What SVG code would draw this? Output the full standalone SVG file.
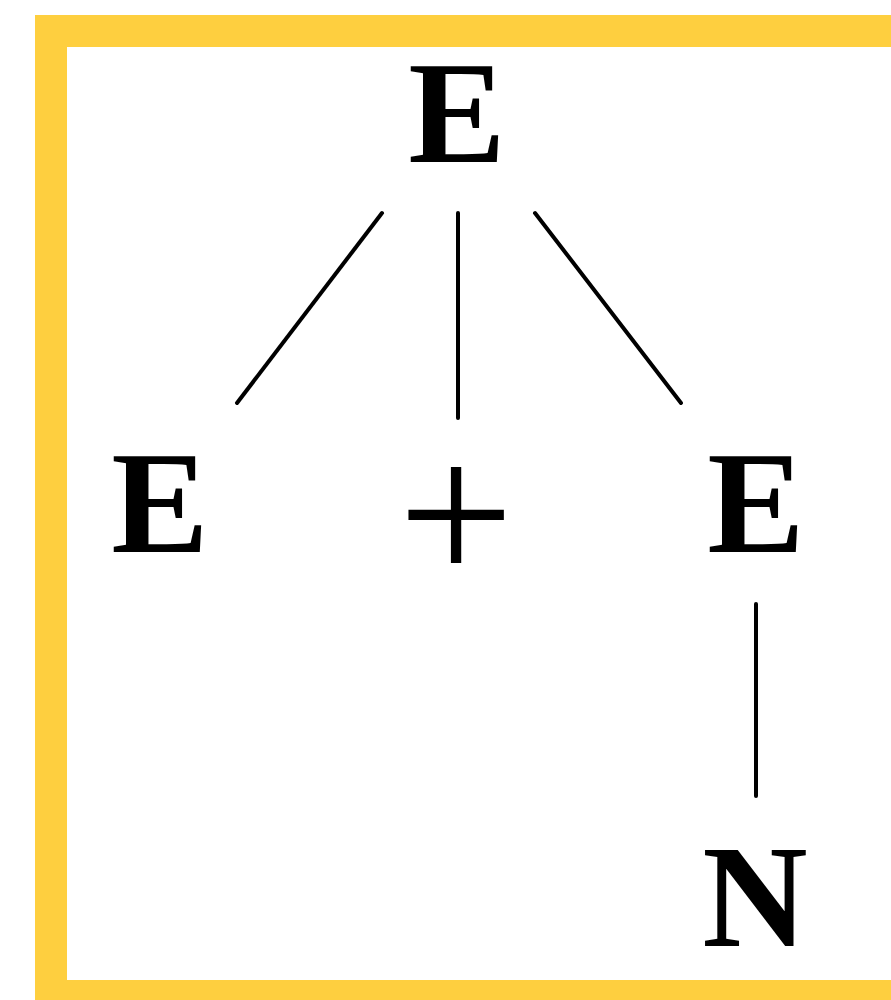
<svg xmlns="http://www.w3.org/2000/svg" width="891" height="1000" viewBox="0 0 891 1000">
<style>
.lbl{font-family:"Liberation Serif","Times New Roman",serif;font-weight:bold;font-size:146px;fill:#000;text-anchor:middle}
.op{font-family:"Liberation Serif","Times New Roman",serif;font-size:205px;fill:#000;text-anchor:middle}
.edge{stroke:#000;stroke-width:4;stroke-linecap:round;fill:none}
</style>
<rect x="0" y="0" width="891" height="1000" fill="#fff"/>
<rect x="51" y="31" width="900" height="965" fill="none" stroke="#FECF3F" stroke-width="32"/>
<g id="connectors">
<line class="edge" x1="382" y1="213" x2="237" y2="403"/>
<line class="edge" x1="458" y1="213" x2="458" y2="418"/>
<line class="edge" x1="535" y1="213" x2="681" y2="403"/>
<line class="edge" x1="756" y1="604" x2="756" y2="796"/>
</g>
<g id="n-root"><text class="lbl" x="457" y="162">E</text></g>
<g id="n-left"><text class="lbl" x="160" y="552">E</text></g>
<g id="n-plus"><text class="op" x="456" y="583">+</text></g>
<g id="n-right"><text class="lbl" x="756" y="552">E</text></g>
<g id="n-n"><text class="lbl" x="755" y="946">N</text></g>
</svg>
